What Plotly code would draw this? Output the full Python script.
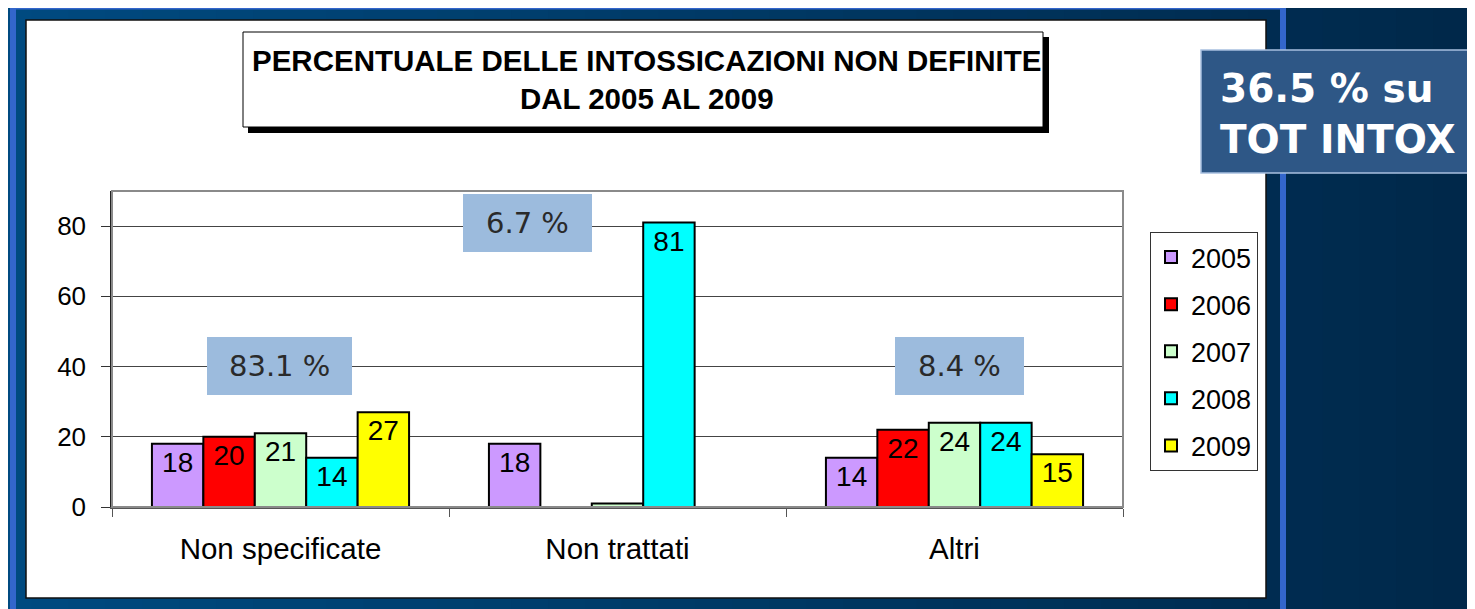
import plotly.graph_objects as go

categories = ["Non specificate", "Non trattati", "Altri"]
years = ["2005", "2006", "2007", "2008", "2009"]
values_2005 = [18, 18, 14]
values_2006 = [20, 0, 22]
values_2007 = [21, 1, 24]
values_2008 = [14, 81, 24]
values_2009 = [27, 0, 15]
labels_2005 = ["18", "18", "14"]
labels_2006 = ["20", "", "22"]
labels_2007 = ["21", "", "24"]
labels_2008 = ["14", "81", "24"]
labels_2009 = ["27", "", "15"]
colors = ["#cc99ff", "#ff0000", "#ccffcc", "#00ffff", "#ffff00"]
y_ticks = [0, 20, 40, 60, 80]
share_texts = ["83.1 %", "6.7 %", "8.4 %"]
title_text = "PERCENTUALE DELLE INTOSSICAZIONI NON DEFINITE<br>DAL 2005 AL 2009"
side_text = "36.5 % su<br>TOT INTOX"

series = [values_2005, values_2006, values_2007, values_2008, values_2009]
labels = [labels_2005, labels_2006, labels_2007, labels_2008, labels_2009]

W, H = 1475, 609
OFF = 8  # page body margin
L, R, T, B = 112, 1123, 191, 507  # plot area in page pixels


def px(x):
    return (x - L) / (R - L)


def py(y):
    return (B - y) / (B - T)


fig = go.Figure()
for yr, vals, labs, col in zip(years, series, labels, colors):
    fig.add_trace(go.Bar(
        x=categories, y=vals, name=yr, text=labs,
        textposition="inside", insidetextanchor="end", constraintext="none",
        textfont=dict(family="Liberation Sans, Arial", size=28, color="black"),
        marker=dict(color=col, line=dict(color="black", width=2)),
        legendgroup=yr,
    ))

shapes = []
# background gradient strips
n = 40
c0 = (0x00, 0x4a, 0x80)
c1 = (0x00, 0x28, 0x4a)
for i in range(n):
    t = i / (n - 1)
    c = tuple(int(round(a + (b - a) * t)) for a, b in zip(c0, c1))
    x0 = W * i / n
    x1 = W * (i + 1) / n + 1
    shapes.append(dict(type="rect", xref="paper", yref="paper",
                       x0=px(x0 - 5), x1=px(x1 + 5), y0=py(H + 20), y1=py(-20),
                       fillcolor="rgb(%d,%d,%d)" % c, line=dict(width=0), layer="below"))
# light blue frame
shapes.append(dict(type="rect", xref="paper", yref="paper",
                   x0=px(13), x1=px(1283), y0=py(625), y1=py(6.5),
                   fillcolor="rgba(0,0,0,0)", line=dict(color="#3366cc", width=6), layer="below"))
# white panel
shapes.append(dict(type="rect", xref="paper", yref="paper",
                   x0=px(26), x1=px(1266), y0=py(598), y1=py(20),
                   fillcolor="white", line=dict(color="#111111", width=1.5), layer="below"))
# title shadow and box
shapes.append(dict(type="rect", xref="paper", yref="paper",
                   x0=px(248), x1=px(1049), y0=py(133), y1=py(37),
                   fillcolor="black", line=dict(width=0), layer="below"))
shapes.append(dict(type="rect", xref="paper", yref="paper",
                   x0=px(243), x1=px(1043), y0=py(127), y1=py(32),
                   fillcolor="white", line=dict(color="black", width=1), layer="below"))
# side box
shapes.append(dict(type="rect", xref="paper", yref="paper",
                   x0=px(1201), x1=px(1500), y0=py(173), y1=py(50),
                   fillcolor="#2e5786", line=dict(color="#a8c0e0", width=1.5), layer="above"))
# plot border (gray)
shapes.append(dict(type="rect", xref="paper", yref="paper",
                   x0=0, x1=1, y0=0, y1=1,
                   fillcolor="rgba(0,0,0,0)", line=dict(color="#8a8a8a", width=2), layer="above"))
# share boxes
share_boxes = [(207, 352, 337, 395), (463, 592, 194, 252), (895, 1024, 337, 395)]
annotations = []
for (x0, x1, y0, y1), txt in zip(share_boxes, share_texts):
    shapes.append(dict(type="rect", xref="paper", yref="paper",
                       x0=px(x0), x1=px(x1), y0=py(y1), y1=py(y0),
                       fillcolor="#9cbbdd", line=dict(width=0), layer="above"))
    annotations.append(dict(xref="paper", yref="paper", x=px((x0 + x1) / 2), y=py((y0 + y1) / 2),
                            text=txt, showarrow=False, xanchor="center", yanchor="middle",
                            font=dict(family="DejaVu Sans", size=29, color="#2a2a2a")))

annotations.append(dict(xref="paper", yref="paper", x=px(646), y=py(79),
                        text="<b>" + title_text + "</b>", showarrow=False,
                        xanchor="center", yanchor="middle", align="center",
                        font=dict(family="Liberation Sans, Arial", size=29.5, color="black")))
annotations.append(dict(xref="paper", yref="paper", x=px(1218), y=py(114),
                        text="<b>" + side_text + "</b>", showarrow=False,
                        xanchor="left", yanchor="middle", align="left",
                        font=dict(family="DejaVu Sans", size=39, color="white")))

fig.update_layout(
    width=W, height=H, autosize=False,
    margin=dict(l=L - OFF, r=W - (R - OFF), t=T - OFF, b=H - (B - OFF), pad=0),
    paper_bgcolor="#003a66", plot_bgcolor="white",
    barmode="group", bargap=0.237, bargroupgap=0,
    showlegend=True,
    legend=dict(x=px(1150), y=py(232), xanchor="left", yanchor="top",
                bgcolor="white", bordercolor="#333333", borderwidth=1,
                font=dict(family="Liberation Sans, Arial", size=27, color="black"),
                tracegroupgap=9),
    shapes=shapes, annotations=annotations,
    font=dict(family="Liberation Sans, Arial", color="black"),
)
fig.update_yaxes(range=[0, 90], tickvals=y_ticks, showgrid=True, gridcolor="#444444", gridwidth=1,
                 zeroline=False, showline=True, linecolor="#222222", linewidth=1.5,
                 ticks="outside", ticklen=9, tickcolor="#333333", ticklabelstandoff=10,
                 tickfont=dict(family="Liberation Sans, Arial", size=26, color="black"))
fig.update_xaxes(showline=True, linecolor="#555555", linewidth=2,
                 ticks="outside", tickson="boundaries", ticklen=8, tickcolor="#555555",
                 ticklabelstandoff=15,
                 tickfont=dict(family="Liberation Sans, Arial", size=29.5, color="black"))

fig.write_html("out.html")
